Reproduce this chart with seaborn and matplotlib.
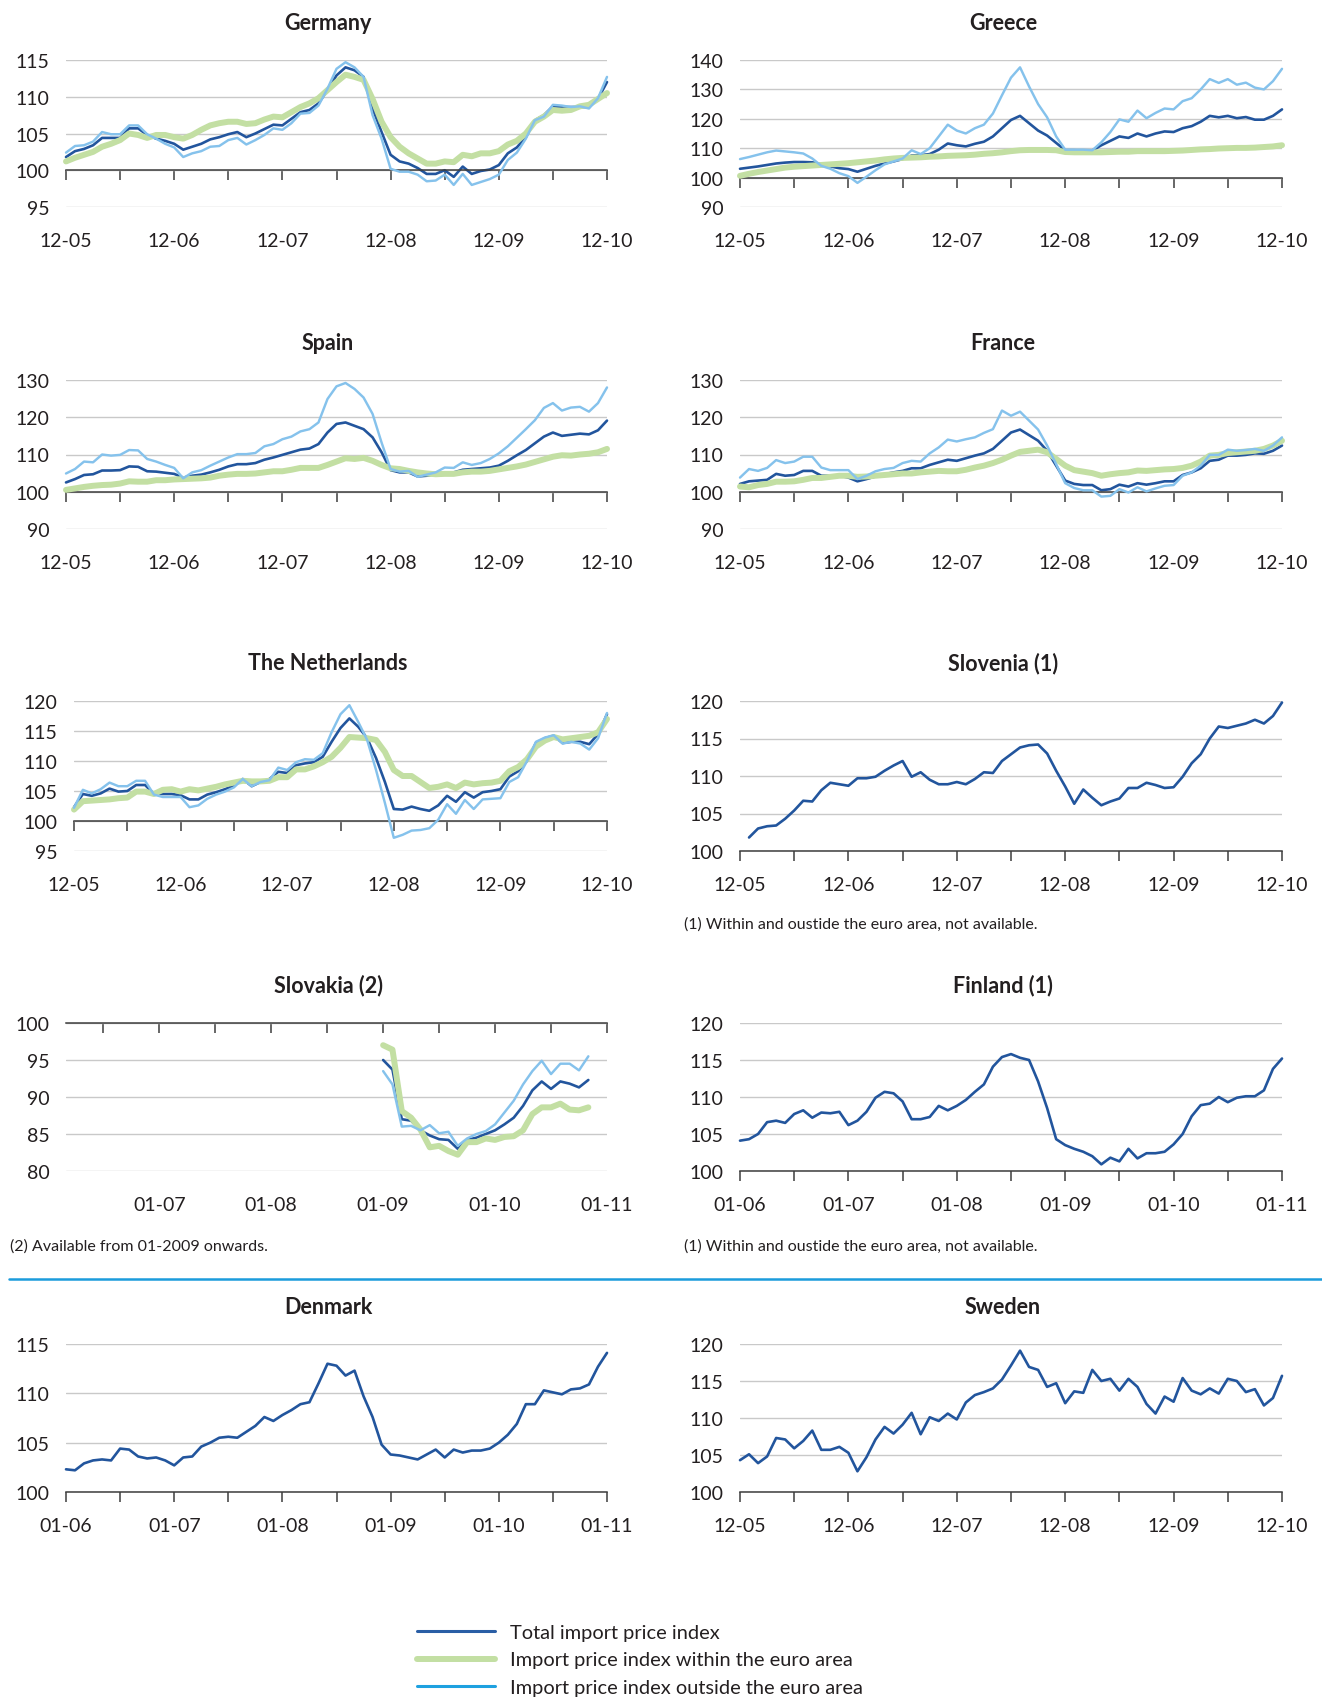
import numpy as np
import matplotlib
matplotlib.use("Agg")
import matplotlib.pyplot as plt
from matplotlib.lines import Line2D
import seaborn as sns

# month index on the x axis: 0 = first month of the axis (12-05 or 01-06), 60 = five years later
months = np.arange(61)

dec05_labels = ["12-05", "12-06", "12-07", "12-08", "12-09", "12-10"]
jan06_labels = ["01-06", "01-07", "01-08", "01-09", "01-10", "01-11"]
slovakia_labels = ["01-07", "01-08", "01-09", "01-10", "01-11"]

germany_total = [101.8, 102.6, 102.9, 103.4, 104.4, 104.4, 104.4, 105.7, 105.7, 104.8,
                 104.3, 104.0, 103.6, 102.8, 103.2, 103.6, 104.2, 104.5, 104.9, 105.2,
                 104.5, 105.0, 105.6, 106.2, 106.1, 107.0, 107.9, 108.2, 109.1, 110.9,
                 112.9, 114.0, 113.6, 112.7, 108.4, 105.2, 102.1, 101.2, 100.9, 100.3,
                 99.5, 99.5, 100.0, 99.1, 100.5, 99.5, 99.9, 100.1, 100.7, 102.3,
                 103.1, 104.5, 106.8, 107.5, 108.7, 108.6, 108.6, 108.6, 108.6, 109.7,
                 112.0]
germany_within = [101.2, 101.7, 102.1, 102.5, 103.2, 103.6, 104.1, 105.0, 104.8, 104.4,
                  104.8, 104.8, 104.5, 104.3, 104.8, 105.5, 106.1, 106.4, 106.6, 106.6,
                  106.3, 106.4, 106.9, 107.3, 107.2, 107.9, 108.6, 109.1, 109.8, 110.9,
                  112.0, 113.0, 112.7, 112.3, 109.7, 106.6, 104.5, 103.2, 102.3, 101.6,
                  100.9, 100.9, 101.2, 101.1, 102.1, 101.9, 102.3, 102.3, 102.6, 103.5,
                  104.0, 105.0, 106.6, 107.3, 108.2, 108.1, 108.2, 108.7, 108.9, 109.7,
                  110.5]
germany_outside = [102.4, 103.3, 103.4, 103.9, 105.2, 104.9, 104.9, 106.1, 106.1, 104.9,
                   104.3, 103.6, 103.1, 101.8, 102.3, 102.6, 103.2, 103.3, 104.1, 104.4,
                   103.5, 104.1, 104.8, 105.7, 105.5, 106.4, 107.7, 107.8, 108.8, 111.1,
                   113.8, 114.7, 114.0, 112.7, 107.5, 104.3, 100.2, 99.8, 99.8, 99.4,
                   98.5, 98.6, 99.4, 98.0, 99.5, 98.0, 98.4, 98.8, 99.4, 101.4,
                   102.4, 104.3, 106.8, 107.3, 108.9, 108.8, 108.6, 108.7, 108.4, 109.8,
                   112.7]

greece_total = [103.0, 103.4, 103.8, 104.3, 104.8, 105.1, 105.3, 105.3, 105.2, 104.6,
                103.8, 103.2, 102.9, 102.0, 103.0, 104.0, 104.8, 105.5, 106.3, 107.5,
                107.6, 108.0, 109.5, 111.6, 111.0, 110.6, 111.5, 112.2, 114.0, 116.8,
                119.6, 121.0, 118.5, 116.0, 114.3, 111.8, 109.3, 109.3, 109.2, 109.2,
                111.0, 112.5, 114.0, 113.5, 115.0, 114.0, 115.0, 115.7, 115.5, 116.8,
                117.5, 119.0, 121.0, 120.5, 121.0, 120.2, 120.6, 119.7, 119.7, 121.0,
                123.2]
greece_within = [100.6, 101.3, 101.9, 102.4, 102.9, 103.4, 103.7, 103.9, 104.1, 104.3,
                 104.5, 104.7, 104.9, 105.2, 105.5, 105.8, 106.2, 106.5, 106.7, 106.8,
                 106.9, 107.1, 107.2, 107.4, 107.5, 107.6, 107.8, 108.1, 108.3, 108.6,
                 109.0, 109.3, 109.4, 109.4, 109.4, 109.3, 108.7, 108.6, 108.6, 108.6,
                 108.6, 108.7, 108.8, 108.8, 109.0, 109.0, 109.0, 109.0, 109.1, 109.2,
                 109.4, 109.6, 109.7, 109.9, 110.0, 110.1, 110.1, 110.2, 110.4, 110.6,
                 111.0]
greece_outside = [106.3, 107.0, 107.8, 108.6, 109.2, 108.9, 108.6, 108.2, 106.5, 104.0,
                  103.0, 101.5, 100.5, 98.2, 100.3, 102.5, 104.5, 105.5, 106.5, 109.3,
                  108.0, 110.0, 114.0, 118.0, 116.0, 115.0, 116.8, 118.0, 121.8, 128.0,
                  134.0, 137.5, 131.0, 125.0, 120.5, 114.0, 109.5, 109.5, 109.5, 109.3,
                  112.0, 115.5, 119.8, 119.0, 122.8, 120.2, 122.0, 123.5, 123.2, 126.0,
                  127.0, 130.0, 133.5, 132.2, 133.5, 131.6, 132.3, 130.6, 130.0, 132.8,
                  137.0]

spain_total = [102.5, 103.4, 104.5, 104.7, 105.7, 105.7, 105.8, 106.8, 106.7, 105.5,
               105.4, 105.1, 104.8, 103.8, 104.3, 104.6, 105.2, 105.9, 106.8, 107.4,
               107.4, 107.7, 108.6, 109.2, 109.9, 110.6, 111.3, 111.6, 112.8, 115.9,
               118.2, 118.6, 117.7, 116.8, 114.6, 110.6, 105.8, 105.2, 105.2, 104.1,
               104.3, 104.7, 105.2, 105.2, 105.9, 106.1, 106.3, 106.5, 107.0, 108.3,
               109.8, 111.2, 113.0, 114.8, 115.9, 115.0, 115.3, 115.6, 115.4, 116.5,
               119.1]
spain_within = [100.5, 100.9, 101.3, 101.6, 101.8, 101.9, 102.2, 102.8, 102.7, 102.7,
                103.1, 103.1, 103.3, 103.4, 103.5, 103.6, 103.8, 104.3, 104.6, 104.8,
                104.8, 104.9, 105.2, 105.5, 105.5, 105.9, 106.4, 106.4, 106.4, 107.2,
                108.1, 109.0, 108.8, 109.1, 108.3, 107.2, 106.3, 106.1, 105.6, 105.2,
                104.9, 104.7, 104.8, 104.8, 105.2, 105.4, 105.4, 105.6, 106.0, 106.4,
                106.8, 107.3, 108.0, 108.7, 109.4, 109.8, 109.7, 110.0, 110.2, 110.6,
                111.5]
spain_outside = [104.9, 106.1, 108.1, 107.9, 110.0, 109.7, 109.9, 111.2, 111.1, 108.8,
                 108.1, 107.2, 106.4, 103.6, 105.2, 105.8, 107.0, 108.1, 109.2, 110.1,
                 110.1, 110.4, 112.2, 112.8, 114.1, 114.8, 116.2, 116.8, 118.6, 124.9,
                 128.3, 129.2, 127.6, 125.3, 120.9, 113.2, 106.1, 105.4, 105.6, 104.0,
                 104.6, 105.2, 106.5, 106.4, 107.9, 107.2, 107.7, 108.8, 110.3, 112.2,
                 114.5, 116.8, 119.2, 122.5, 123.8, 121.8, 122.6, 122.8, 121.5, 123.8,
                 128.0]

france_total = [102.1, 102.8, 103.0, 103.2, 104.8, 104.3, 104.5, 105.6, 105.6, 104.3,
                104.3, 104.3, 103.8, 102.8, 103.4, 104.1, 104.7, 105.2, 105.6, 106.3,
                106.3, 107.2, 107.9, 108.6, 108.3, 109.0, 109.7, 110.3, 111.5, 113.7,
                115.9, 116.7, 115.2, 113.7, 111.0, 107.0, 103.0, 102.1, 101.8, 101.8,
                100.4, 100.7, 101.9, 101.4, 102.3, 101.9, 102.3, 102.8, 102.8, 104.5,
                105.2, 106.3, 108.3, 108.6, 109.7, 109.7, 109.9, 110.3, 110.2, 111.0,
                112.4]
france_within = [101.4, 101.2, 101.8, 102.1, 102.7, 102.7, 102.8, 103.2, 103.7, 103.7,
                 104.0, 104.3, 104.3, 104.0, 104.1, 104.3, 104.5, 104.7, 104.9, 104.9,
                 105.2, 105.4, 105.6, 105.5, 105.5, 105.9, 106.5, 107.0, 107.7, 108.6,
                 109.7, 110.7, 111.0, 111.3, 110.6, 108.8, 107.0, 105.8, 105.4, 105.0,
                 104.3, 104.7, 105.0, 105.2, 105.7, 105.6, 105.8, 106.0, 106.1, 106.4,
                 107.0, 108.1, 109.7, 109.9, 110.4, 110.6, 110.8, 111.0, 111.5, 112.4,
                 113.7]
france_outside = [103.8, 106.1, 105.6, 106.4, 108.5, 107.7, 108.1, 109.4, 109.4, 106.5,
                  105.8, 105.8, 105.8, 103.4, 104.3, 105.5, 106.1, 106.4, 107.7, 108.3,
                  108.1, 110.3, 111.9, 114.0, 113.5, 114.1, 114.6, 115.8, 116.8, 121.8,
                  120.4, 121.5, 119.1, 116.7, 112.4, 107.4, 102.3, 101.0, 100.4, 100.4,
                  98.7, 98.9, 100.7, 99.8, 101.2, 100.1, 100.9, 101.6, 101.8, 104.3,
                  105.2, 107.0, 109.9, 109.9, 111.3, 111.0, 111.2, 111.5, 111.0, 112.4,
                  114.6]

netherlands_total = [102.3, 104.5, 104.2, 104.6, 105.4, 104.9, 105.0, 106.0, 106.0, 104.5,
                     104.5, 104.5, 104.3, 103.6, 103.6, 104.4, 104.8, 105.3, 105.9, 107.0,
                     105.8, 106.5, 107.0, 108.2, 108.0, 109.3, 109.6, 109.8, 110.7, 113.2,
                     115.5, 117.1, 115.7, 113.8, 110.5, 106.5, 102.0, 101.9, 102.4, 102.0,
                     101.7, 102.6, 104.2, 103.2, 104.8, 103.9, 104.8, 105.0, 105.3, 107.4,
                     108.3, 110.0, 113.0, 113.8, 114.2, 113.0, 113.2, 113.2, 112.8, 114.5,
                     117.8]
netherlands_within = [101.9, 103.3, 103.4, 103.5, 103.6, 103.8, 103.9, 104.9, 104.9, 104.5,
                      105.2, 105.3, 104.9, 105.3, 105.1, 105.4, 105.7, 106.1, 106.4, 106.7,
                      106.6, 106.6, 106.7, 107.3, 107.3, 108.6, 108.6, 109.1, 109.8, 110.7,
                      112.2, 114.0, 113.9, 113.8, 113.5, 111.5, 108.5, 107.5, 107.5, 106.5,
                      105.5, 105.7, 106.1, 105.5, 106.4, 106.1, 106.3, 106.4, 106.7, 108.3,
                      109.0, 110.3, 112.4, 113.4, 114.0, 113.6, 113.8, 114.0, 114.2, 114.8,
                      117.0]
netherlands_outside = [102.2, 105.2, 104.6, 105.3, 106.4, 105.8, 105.8, 106.7, 106.7, 104.4,
                       104.0, 104.0, 104.0, 102.3, 102.6, 103.7, 104.4, 104.9, 105.6, 107.0,
                       105.8, 106.5, 106.8, 108.9, 108.5, 109.8, 110.3, 110.2, 111.3, 114.8,
                       117.8, 119.3, 116.5, 113.5, 108.5, 103.0, 97.2, 97.7, 98.4, 98.5,
                       98.8, 100.2, 102.8, 101.2, 103.5, 102.0, 103.6, 103.7, 103.8, 106.5,
                       107.3, 110.0, 113.2, 113.9, 114.3, 112.9, 113.2, 112.9, 111.9, 113.8,
                       118.0]

# Slovenia: total only, from 01-06 (month 1) to 12-10
slovenia_total = [101.8, 103.0, 103.3, 103.4, 104.3, 105.4, 106.7, 106.6, 108.1, 109.1,
                  108.9, 108.7, 109.7, 109.7, 109.9, 110.7, 111.4, 112.0, 109.9, 110.5,
                  109.5, 108.9, 108.9, 109.2, 108.9, 109.6, 110.5, 110.4, 112.0, 112.9,
                  113.8, 114.1, 114.2, 113.0, 110.7, 108.6, 106.3, 108.2, 107.1, 106.1,
                  106.6, 107.0, 108.4, 108.4, 109.1, 108.8, 108.4, 108.5, 109.9, 111.7,
                  112.9, 115.0, 116.6, 116.4, 116.7, 117.0, 117.5, 117.0, 118.0, 119.8]

# Slovakia: from 01-09 to 11-10 (months 36..58 counted from 01-06)
slovakia_months = np.arange(36, 59)
slovakia_total = [95.0, 93.7, 87.0, 86.8, 85.5, 84.8, 84.3, 84.2, 83.0, 84.2, 84.5, 85.0,
                  85.5, 86.3, 87.2, 88.8, 90.9, 92.1, 91.1, 92.1, 91.8, 91.3, 92.3]
slovakia_within = [97.0, 96.4, 88.1, 87.2, 85.6, 83.2, 83.4, 82.7, 82.2, 83.9, 83.9, 84.4,
                   84.2, 84.6, 84.7, 85.5, 87.7, 88.6, 88.6, 89.1, 88.3, 88.2, 88.6]
slovakia_outside = [93.5, 91.7, 86.0, 86.1, 85.5, 86.2, 85.1, 85.3, 83.4, 84.4, 85.0, 85.4,
                    86.3, 87.9, 89.5, 91.7, 93.5, 94.9, 93.1, 94.5, 94.5, 93.6, 95.5]

finland_total = [104.1, 104.3, 105.0, 106.6, 106.8, 106.5, 107.7, 108.2, 107.2, 107.9,
                 107.8, 108.0, 106.2, 106.8, 108.0, 109.9, 110.7, 110.5, 109.4, 107.0,
                 107.0, 107.3, 108.8, 108.2, 108.8, 109.6, 110.7, 111.7, 114.1, 115.4,
                 115.8, 115.3, 115.0, 112.1, 108.5, 104.3, 103.5, 103.0, 102.6, 102.0,
                 100.9, 101.8, 101.3, 103.0, 101.7, 102.4, 102.4, 102.6, 103.6, 105.0,
                 107.4, 108.9, 109.1, 110.0, 109.3, 109.9, 110.1, 110.1, 110.9, 113.8,
                 115.2]

denmark_total = [102.3, 102.2, 102.9, 103.2, 103.3, 103.2, 104.4, 104.3, 103.6, 103.4,
                 103.5, 103.2, 102.7, 103.5, 103.6, 104.6, 105.0, 105.5, 105.6, 105.5,
                 106.1, 106.7, 107.6, 107.2, 107.8, 108.3, 108.9, 109.1, 111.0, 113.0,
                 112.8, 111.8, 112.3, 109.7, 107.6, 104.8, 103.8, 103.7, 103.5, 103.3,
                 103.8, 104.3, 103.5, 104.3, 104.0, 104.2, 104.2, 104.4, 105.0, 105.8,
                 106.9, 108.9, 108.9, 110.3, 110.1, 109.9, 110.4, 110.5, 110.9, 112.7,
                 114.1]

sweden_total = [104.3, 105.1, 103.9, 104.8, 107.3, 107.1, 105.9, 106.9, 108.3, 105.7,
                105.7, 106.1, 105.3, 102.8, 104.7, 107.1, 108.8, 107.9, 109.1, 110.7,
                107.8, 110.1, 109.6, 110.6, 109.8, 112.1, 113.1, 113.5, 114.0, 115.2,
                117.1, 119.1, 116.9, 116.5, 114.2, 114.7, 112.0, 113.6, 113.4, 116.5,
                115.0, 115.3, 113.7, 115.3, 114.2, 111.9, 110.6, 112.9, 112.2, 115.4,
                113.7, 113.2, 114.0, 113.3, 115.3, 115.0, 113.5, 113.9, 111.7, 112.7,
                115.7]

DARK = "#22559d"
GREEN = "#c3dfa3"
LIGHT = "#85c2ec"
TEXT = "#231f20"
W, H = 1322, 1699

sns.set_theme(style="white")
plt.rcParams["font.family"] = ["Lato", "DejaVu Sans"]

fig = plt.figure(figsize=(W / 100, H / 100), dpi=100)


def add_axes(left, right, top, bottom):
    return fig.add_axes([left / W, 1 - bottom / H, (right - left) / W, (bottom - top) / H])


def draw_panel(ax, x, total, within=None, outside=None, x_extra=None,
               yticks=None, xlim=(0, 60), tick_pos=None, label_pos=None, labels=None):
    sns.lineplot(x=x, y=total, ax=ax, color=DARK, lw=1.9, zorder=2, clip_on=False)
    if within is not None:
        sns.lineplot(x=x_extra, y=within, ax=ax, color=GREEN, lw=4.3, zorder=3, clip_on=False)
    if outside is not None:
        sns.lineplot(x=x_extra, y=outside, ax=ax, color=LIGHT, lw=1.75, zorder=4, clip_on=False)
    ax.set_xlim(*xlim)
    ax.set_ylim(yticks[0], yticks[-1])
    ax.set_yticks(yticks)
    ax.yaxis.grid(True, color="#c9c9c9", lw=1.0)
    ax.set_axisbelow(True)
    for side in ["left", "top", "right"]:
        ax.spines[side].set_visible(False)
    # the x axis line sits on the 100 level; the date labels stay under the plot
    ax.spines["bottom"].set_position(("data", 100))
    ax.spines["bottom"].set_color("#3d3d3d")
    ax.spines["bottom"].set_linewidth(1.1)
    ax.set_xticks(tick_pos)
    ax.tick_params(axis="x", direction="out", length=7, width=1.1, color="#3d3d3d",
                   labelbottom=False, bottom=True)
    ax.tick_params(axis="y", length=0, pad=12, labelsize=14, labelcolor=TEXT)
    ax.set_xlabel("")
    ax.set_ylabel("")
    sec = ax.secondary_xaxis("bottom")
    sec.set_xticks(label_pos, labels=labels)
    sec.spines["bottom"].set_visible(False)
    sec.tick_params(length=0, pad=18, labelsize=14, labelcolor=TEXT)
    if ax.get_legend() is not None:
        ax.get_legend().remove()


six = list(range(0, 61, 6))
twelve = list(range(0, 61, 12))
LX0, LX1, RX0, RX1 = 66, 607, 740, 1282
rows = [(61, 208), (381, 530), (702, 852), (1024, 1172), (1345, 1493)]
title_y = [23, 344, 664, 986, 1308]

# row 1
ax = add_axes(LX0, LX1, *rows[0])
draw_panel(ax, months, germany_total, germany_within, germany_outside, months,
           [95, 100, 105, 110, 115], tick_pos=six, label_pos=twelve, labels=dec05_labels)
ax = add_axes(RX0, RX1, *rows[0])
draw_panel(ax, months, greece_total, greece_within, greece_outside, months,
           [90, 100, 110, 120, 130, 140], tick_pos=six, label_pos=twelve, labels=dec05_labels)
# row 2
ax = add_axes(LX0, LX1, *rows[1])
draw_panel(ax, months, spain_total, spain_within, spain_outside, months,
           [90, 100, 110, 120, 130], tick_pos=six, label_pos=twelve, labels=dec05_labels)
ax = add_axes(RX0, RX1, *rows[1])
draw_panel(ax, months, france_total, france_within, france_outside, months,
           [90, 100, 110, 120, 130], tick_pos=six, label_pos=twelve, labels=dec05_labels)
# row 3
ax = add_axes(74, LX1, *rows[2])
draw_panel(ax, months, netherlands_total, netherlands_within, netherlands_outside, months,
           [95, 100, 105, 110, 115, 120], tick_pos=six, label_pos=twelve, labels=dec05_labels)
ax = add_axes(RX0, RX1, *rows[2])
draw_panel(ax, months[1:], slovenia_total, yticks=[100, 105, 110, 115, 120],
           tick_pos=six, label_pos=twelve, labels=dec05_labels)
# row 4
ax = add_axes(LX0, LX1, *rows[3])
draw_panel(ax, slovakia_months, slovakia_total, slovakia_within, slovakia_outside, slovakia_months,
           [80, 85, 90, 95, 100], xlim=(2, 60), tick_pos=six[1:], label_pos=twelve[1:],
           labels=slovakia_labels)
ax = add_axes(RX0, RX1, *rows[3])
draw_panel(ax, months, finland_total, yticks=[100, 105, 110, 115, 120],
           tick_pos=six, label_pos=twelve, labels=jan06_labels)
# row 5
ax = add_axes(LX0, LX1, *rows[4])
draw_panel(ax, months, denmark_total, yticks=[100, 105, 110, 115],
           tick_pos=six, label_pos=twelve, labels=jan06_labels)
ax = add_axes(RX0, RX1, *rows[4])
draw_panel(ax, months, sweden_total, yticks=[100, 105, 110, 115, 120],
           tick_pos=six, label_pos=twelve, labels=dec05_labels)

titles = [["Germany", "Greece"], ["Spain", "France"], ["The Netherlands", "Slovenia (1)"],
          ["Slovakia (2)", "Finland (1)"], ["Denmark", "Sweden"]]
for r, pair in enumerate(titles):
    for c, name in enumerate(pair):
        fig.text((328 if c == 0 else 1003) / W, 1 - title_y[r] / H, name, ha="center",
                 va="center", fontsize=15.5, fontweight="bold", color=TEXT)

note1 = "(1) Within and oustide the euro area, not available."
fig.text(684 / W, 1 - 925 / H, note1, ha="left", va="center", fontsize=11.5, color=TEXT)
fig.text(684 / W, 1 - 1247 / H, note1, ha="left", va="center", fontsize=11.5, color=TEXT)
fig.text(10 / W, 1 - 1247 / H, "(2) Available from 01-2009 onwards.", ha="left", va="center",
         fontsize=11.5, color=TEXT)

fig.add_artist(Line2D([9 / W, 1.0], [1 - 1280 / H, 1 - 1280 / H], transform=fig.transFigure,
                      color="#1c9cdc", lw=1.8))

handles = [Line2D([], [], color="#2a5ea5", lw=2.2),
           Line2D([], [], color=GREEN, lw=4.3),
           Line2D([], [], color="#1ea1e0", lw=2.2)]
fig.legend(handles, ["Total import price index", "Import price index within the euro area",
                     "Import price index outside the euro area"],
           loc="center left", bbox_to_anchor=(417 / W, 1 - 1661 / H), frameon=False,
           fontsize=14.4, handlelength=3.9, handletextpad=0.75, labelspacing=0.52,
           borderpad=0, borderaxespad=0, labelcolor=TEXT)

fig.savefig("out.png", dpi=100)
